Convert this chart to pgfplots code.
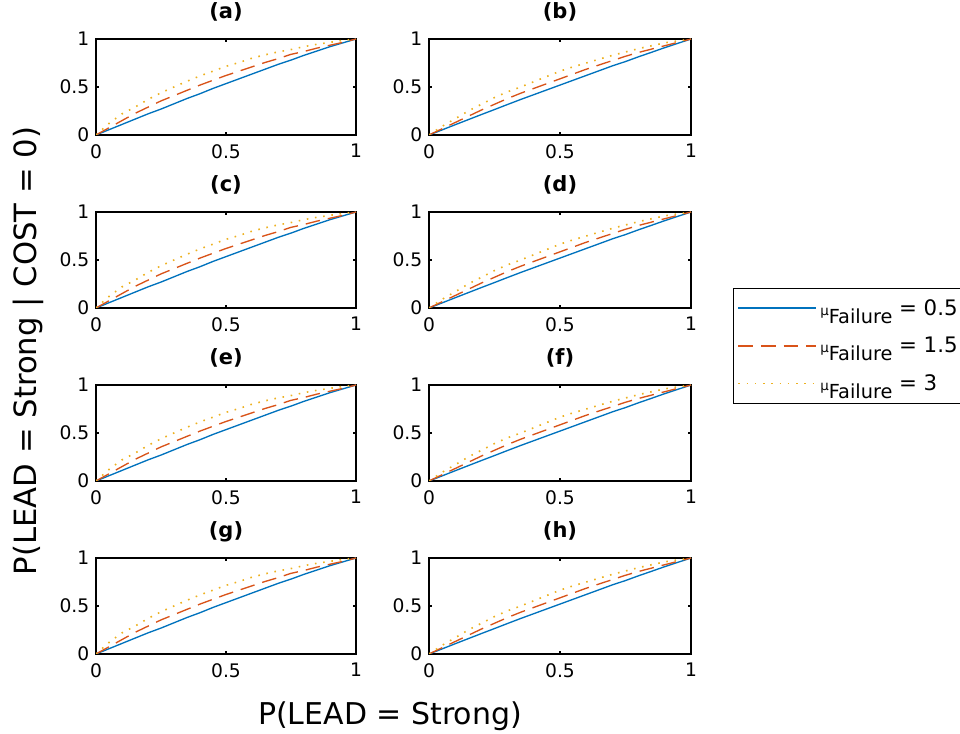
\documentclass[border=0pt]{standalone}
\usepackage{fontspec}
\setmainfont{DejaVu Sans}
\usepackage{pgfplots}
\pgfplotsset{compat=1.18}
\usepackage{pgfplotstable}

\definecolor{mblue}{rgb}{0,0.447,0.741}
\definecolor{morange}{rgb}{0.850,0.325,0.098}
\definecolor{myellow}{rgb}{0.929,0.694,0.125}

\pgfplotstableread{
x     b     o     y
0     0     0     0
0.05  0.055 0.075 0.12
0.1   0.11  0.15  0.22
0.15  0.165 0.225 0.29
0.2   0.22  0.29  0.37
0.25  0.27  0.355 0.44
0.3   0.325 0.41  0.50
0.35  0.38  0.465 0.56
0.4   0.43  0.52  0.615
0.45  0.485 0.57  0.665
0.5   0.535 0.62  0.715
0.55  0.585 0.665 0.755
0.6   0.635 0.71  0.80
0.65  0.685 0.755 0.835
0.7   0.735 0.795 0.865
0.75  0.78  0.84  0.89
0.8   0.83  0.87  0.92
0.85  0.875 0.905 0.945
0.9   0.92  0.935 0.965
0.95  0.96  0.965 0.985
1     1     1     1
}\dataA

\pgfplotstableread{
x     b     o     y
0     0     0     0
0.05  0.053 0.065 0.09
0.1   0.107 0.13  0.17
0.15  0.16  0.195 0.25
0.2   0.213 0.26  0.32
0.25  0.265 0.32  0.39
0.3   0.318 0.38  0.45
0.35  0.37  0.435 0.50
0.4   0.42  0.485 0.555
0.45  0.47  0.535 0.61
0.5   0.52  0.585 0.665
0.55  0.57  0.635 0.71
0.6   0.62  0.685 0.75
0.65  0.67  0.73  0.79
0.7   0.72  0.775 0.83
0.75  0.765 0.82  0.865
0.8   0.815 0.86  0.9
0.85  0.862 0.895 0.93
0.9   0.91  0.93  0.96
0.95  0.955 0.965 0.98
1     1     1     1
}\dataB

\pgfplotsset{
  panel/.style={
    scale only axis, height=72pt,
    xmin=0, xmax=1, ymin=0, ymax=1,
    xtick={0,0.5,1}, ytick={0,0.5,1},
    tick align=inside, tick pos=both, major tick length=2.5pt,
    axis line style={line width=0.8pt},
    every tick/.style={black, line width=0.8pt},
    tick label style={font=\fontsize{14}{16}\selectfont},
    xticklabel style={yshift=-3.5pt},
    yticklabel style={xshift=-1.5pt},
    /pgf/number format/assume math mode=true,
    title style={font=\bfseries\fontsize{15.75}{18}\selectfont, at={(0.5,1)}, anchor=base, yshift=9pt},
    anchor=north west,
  },
  colL/.style={panel, width=195pt},
  colR/.style={panel, width=196.5pt},
  serA/.style={draw=mblue, line width=1pt, solid},
  serB/.style={draw=morange, line width=1pt, dash pattern=on 11pt off 6pt},
  serC/.style={draw=myellow, line width=1.2pt, dash pattern=on 1.2pt off 5pt},
}

\newcommand{\leg}[1]{{\fontsize{10}{11}\selectfont μ}\raisebox{-6pt}{\fontsize{14.5}{16}\selectfont Failure}\hspace{5pt}{\fontsize{16}{18}\selectfont = #1}}

\begin{document}
\begin{tikzpicture}
\useasboundingbox (0,0) rectangle (720pt,550.5pt);

% row 1
\begin{axis}[colL, at={(72pt,521.25pt)}, title={(a)}]
\addplot[serA] table[x=x,y=b]{\dataA};
\addplot[serB] table[x=x,y=o]{\dataA};
\addplot[serC] table[x=x,y=y]{\dataA};
\end{axis}
\begin{axis}[colR, at={(321.75pt,521.25pt)}, title={(b)}]
\addplot[serA] table[x=x,y=b]{\dataB};
\addplot[serB] table[x=x,y=o]{\dataB};
\addplot[serC] table[x=x,y=y]{\dataB};
\end{axis}

% row 2
\begin{axis}[colR, at={(321.75pt,391.5pt)}, title={(d)},
  legend image code/.code={\draw[#1, line width=1.1pt] (0pt,0pt) -- (58pt,0pt);},
  legend style={at={(1.1603,0.2083)}, anchor=north west,
    draw=black, fill=white, line width=0.8pt,
    inner xsep=3pt, inner ysep=6pt, row sep=11pt,
    nodes={inner xsep=3pt, inner ysep=2pt}},
  legend cell align=left]
\addplot[serA] table[x=x,y=b]{\dataB};
\addplot[serB] table[x=x,y=o]{\dataB};
\addplot[serC] table[x=x,y=y]{\dataB};
\legend{\leg{0.5},\leg{1.5},\leg{3}}
\end{axis}
\begin{axis}[colL, at={(72pt,391.5pt)}, title={(c)}]
\addplot[serA] table[x=x,y=b]{\dataA};
\addplot[serB] table[x=x,y=o]{\dataA};
\addplot[serC] table[x=x,y=y]{\dataA};
\end{axis}

% row 3
\begin{axis}[colL, at={(72pt,261.75pt)}, title={(e)}]
\addplot[serA] table[x=x,y=b]{\dataA};
\addplot[serB] table[x=x,y=o]{\dataA};
\addplot[serC] table[x=x,y=y]{\dataA};
\end{axis}
\begin{axis}[colR, at={(321.75pt,261.75pt)}, title={(f)}]
\addplot[serA] table[x=x,y=b]{\dataB};
\addplot[serB] table[x=x,y=o]{\dataB};
\addplot[serC] table[x=x,y=y]{\dataB};
\end{axis}

% row 4
\begin{axis}[colL, at={(72pt,132pt)}, title={(g)}]
\addplot[serA] table[x=x,y=b]{\dataA};
\addplot[serB] table[x=x,y=o]{\dataA};
\addplot[serC] table[x=x,y=y]{\dataA};
\end{axis}
\begin{axis}[colR, at={(321.75pt,132pt)}, title={(h)}]
\addplot[serA] table[x=x,y=b]{\dataB};
\addplot[serB] table[x=x,y=o]{\dataB};
\addplot[serC] table[x=x,y=y]{\dataB};
\end{axis}

\node[anchor=base, font=\fontsize{22.5}{26}\selectfont] at (292.5pt,6.75pt) {P(LEAD = Strong)};
\node[anchor=base, rotate=90, font=\fontsize{23}{26}\selectfont] at (27.75pt,287.25pt) {P(LEAD = Strong | COST = 0)};
\end{tikzpicture}
\end{document}
